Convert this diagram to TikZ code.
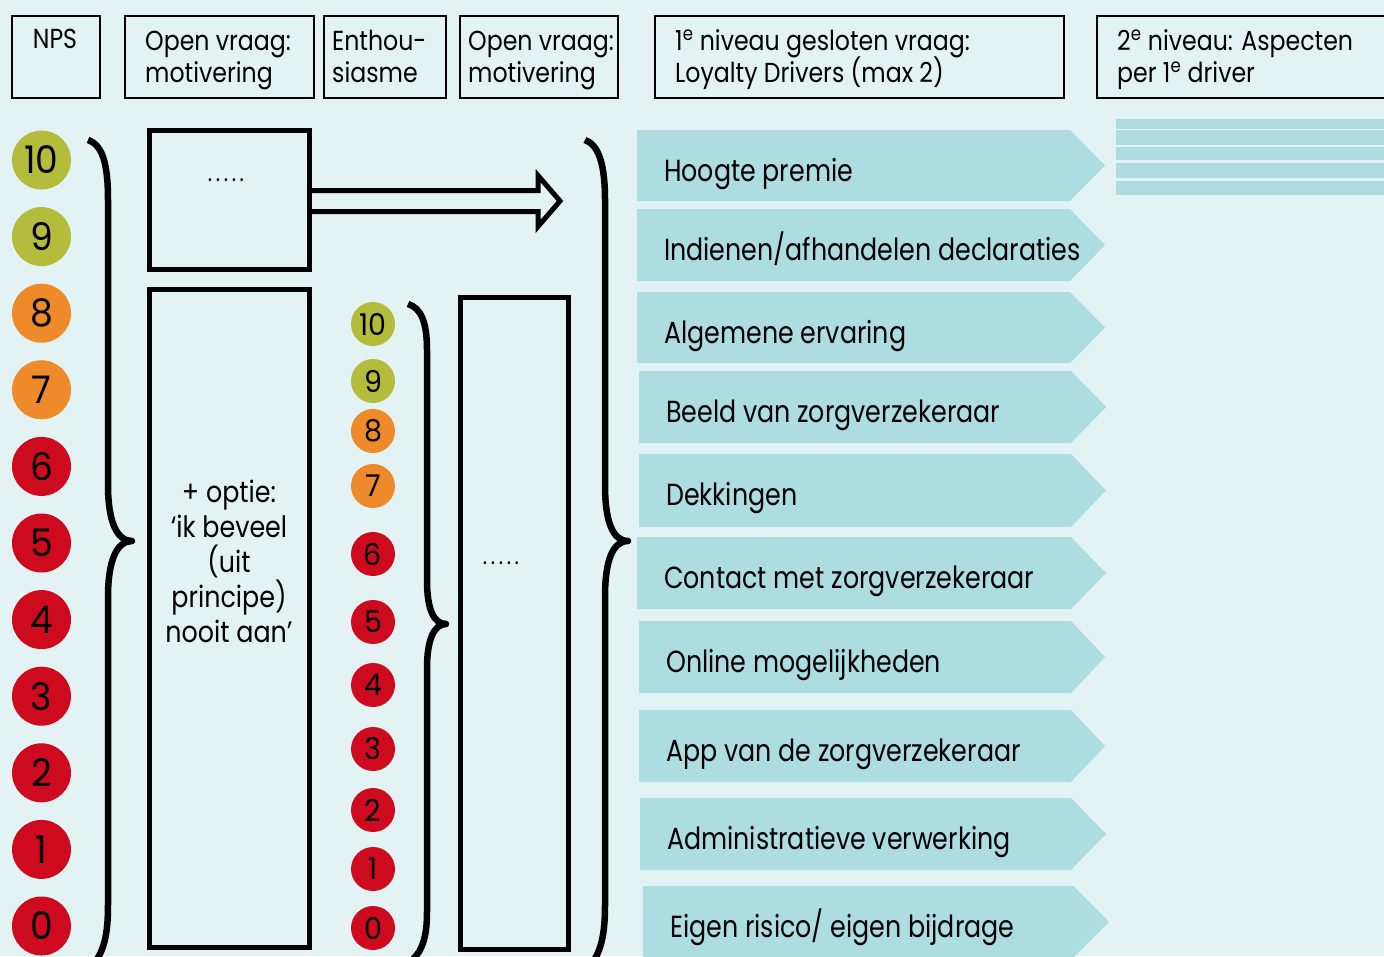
\documentclass[tikz,border=0pt]{standalone}
\usepackage{fontspec}
\setmainfont{Poppins}[FakeStretch=0.86]
\newfontfamily\rowff{Poppins}[FakeStretch=0.83]
\newfontfamily\digff{Poppins}[FakeStretch=0.95]
\definecolor{bgc}{HTML}{E3F3F4}
\definecolor{chev}{HTML}{AEDDE1}
\definecolor{cgreen}{HTML}{B4BC3B}
\definecolor{corange}{HTML}{EF8A2A}
\definecolor{cred}{HTML}{CE0A1E}
\newcommand\rowfont{\rowff\fontsize{30.5}{33}\selectfont}
\newcommand\hdrfont{\fontsize{27.5}{30}\selectfont}
\newcommand\bigdigit{\digff\fontsize{38}{38}\selectfont}
\newcommand\smalldigit{\digff\fontsize{30}{30}\selectfont}
\newcommand\boxfont{\fontsize{29.5}{31}\selectfont}
\newcommand\fivedots{.\kern3.6pt.\kern3.6pt.\kern3.6pt.\kern3.6pt.}
\begin{document}
\begin{tikzpicture}[x=1pt,y=-1pt,
  hdrbox/.style={draw=black, line width=2pt, inner sep=0pt, minimum height=82pt},
  hdrtext/.style={inner sep=0pt, anchor=base west, font=\hdrfont},
  thickbox/.style={draw=black, line width=5pt, inner sep=0pt},
  brace/.style={draw=black, line width=6.5pt, line cap=butt, line join=round},
  bignum/.style={circle, inner sep=0pt, minimum size=59pt, font=\bigdigit},
  smallnum/.style={circle, inner sep=0pt, minimum size=44pt, font=\smalldigit},
  rowtext/.style={inner sep=0pt, anchor=base west, font=\rowfont},
  boxtext/.style={inner sep=0pt, anchor=base, font=\boxfont},
  dotstext/.style={inner sep=0pt, anchor=base, font=\fontsize{24}{24}\selectfont},
]
\useasboundingbox (0,0) rectangle (1384,956);
\fill[bgc] (0,0) rectangle (1384,956);

% header boxes
\node[hdrbox, minimum width=88pt] (hnps) at (56,57) {};
\node[inner sep=0pt, anchor=base, font=\hdrfont] (tnps) at (55,48) {NPS};
\node[hdrbox, minimum width=189pt] (hopen1) at (219.5,57) {};
\node[hdrtext] (topen1a) at (145,50) {Open vraag:};
\node[hdrtext] (topen1b) at (145,82) {motivering};
\node[hdrbox, minimum width=122pt] (henth) at (385,57) {};
\node[hdrtext] (tentha) at (332,50) {Enthou-};
\node[hdrtext] (tenthb) at (332,82) {siasme};
\node[hdrbox, minimum width=158pt] (hopen2) at (539,57) {};
\node[hdrtext] (topen2a) at (468,50) {Open vraag:};
\node[hdrtext] (topen2b) at (468,82) {motivering};
\node[hdrbox, minimum width=409pt] (hlev1) at (859.5,57) {};
\node[hdrtext] (tlev1a) at (675,50) {1\textsuperscript{e} niveau gesloten vraag:};
\node[hdrtext] (tlev1b) at (675,82) {Loyalty Drivers (max 2)};
\node[hdrbox, minimum width=293pt] (hlev2) at (1243,57) {};
\node[hdrtext] (tlev2a) at (1117,50) {2\textsuperscript{e} niveau: Aspecten};
\node[hdrtext] (tlev2b) at (1117,82) {per 1\textsuperscript{e} driver};

% stripes top right
\fill[chev] (1116,119) rectangle (1384,128.5);
\fill[chev] (1116,130) rectangle (1384,145);
\fill[chev] (1116,146.5) rectangle (1384,160);
\fill[chev] (1116,163) rectangle (1384,178);
\fill[chev] (1116,181) rectangle (1384,195);

% big NPS circles
\foreach \k/\c in {10/cgreen,9/cgreen,8/corange,7/corange,6/cred,5/cred,4/cred,3/cred,2/cred,1/cred,0/cred}{
  \node[bignum, fill=\c] (n\k) at (41.5,{160+(10-\k)*76.6}) {\k};
}
% small circles
\foreach \k/\c/\yy in {10/cgreen/324,9/cgreen/381,8/corange/431,7/corange/486,6/cred/554,5/cred/622,4/cred/685,3/cred/749,2/cred/810,1/cred/869,0/cred/928}{
  \node[smallnum, fill=\c] (m\k) at (373,\yy) {\k};
}

% braces
\draw[brace] (88,140) .. controls (103,145) and (108,165) .. (108,200) -- (108,485)
  .. controls (108,522) and (117,541) .. (132,541)
  .. controls (117,541) and (108,560) .. (108,597) -- (108,905)
  .. controls (108,935) and (104,952) .. (92,966);
\draw[brace] (408,304) .. controls (421,308) and (427,322) .. (427,350) -- (427,580)
  .. controls (427,610) and (434,624) .. (446,624)
  .. controls (434,624) and (427,640) .. (427,668) -- (427,912)
  .. controls (427,938) and (422,952) .. (410,962);
\draw[brace] (585,140) .. controls (599,145) and (605,165) .. (605,200) -- (605,485)
  .. controls (605,522) and (613,541) .. (628,541)
  .. controls (613,541) and (605,560) .. (605,597) -- (605,905)
  .. controls (605,935) and (601,952) .. (590,966);

% boxes
\node[thickbox, minimum width=160pt, minimum height=139pt] (bdots) at (229.5,200) {};
\node[dotstext] (tdots1) at (226,181) {\fivedots};
\node[thickbox, minimum width=160pt, minimum height=658pt] (boptie) at (229.5,618.5) {};
\node[boxtext] (to1) at (229,502) {+ optie:};
\node[boxtext] (to2) at (229,537) {‘ik beveel};
\node[boxtext] (to3) at (229,572) {(uit};
\node[boxtext] (to4) at (229,607) {principe)};
\node[boxtext] (to5) at (229,642) {nooit aan’};
\node[thickbox, minimum width=108pt, minimum height=652pt] (bmid) at (514.5,623.5) {};
\node[dotstext] (tdots2) at (501,564) {\fivedots};

% double arrow
\coordinate (atop) at (538,190.5);
\coordinate (abot) at (538,211.5);
\draw[line width=5pt, line join=miter] (bdots.east |- atop) -- (atop) -- (538,175.5) -- (560,201) -- (538,226.5) -- (abot) -- (bdots.east |- abot);

% chevrons
\newcommand\chevron[7]{%
  \fill[chev] (#2,#3) -- (#6,#3) -- (#7,{(#3+#4)/2}) -- (#6,#4) -- (#2,#4) -- cycle;
  \node[rowtext] (#1) at (#2+27,#3+51) {#5};
}
\chevron{r1}{637}{130}{201}{Hoogte premie}{1070}{1105}
\chevron{r2}{637}{209}{281}{Indienen/afhandelen declaraties}{1070}{1105}
\chevron{r3}{637}{292}{363}{Algemene ervaring}{1070}{1105}
\chevron{r4}{639}{371}{443}{Beeld van zorgverzekeraar}{1071}{1106}
\chevron{r5}{639}{454}{527}{Dekkingen}{1071}{1106}
\chevron{r6}{637}{537}{609}{Contact met zorgverzekeraar}{1071}{1106}
\chevron{r7}{639}{621}{693}{Online mogelijkheden}{1071}{1105}
\chevron{r8}{639}{710}{782}{App van de zorgverzekeraar}{1071}{1105}
\chevron{r9}{640}{798}{870}{Administratieve verwerking}{1071}{1106}
\chevron{r10}{643}{886}{958}{Eigen risico/ eigen bijdrage}{1073}{1109}
\end{tikzpicture}
\end{document}
